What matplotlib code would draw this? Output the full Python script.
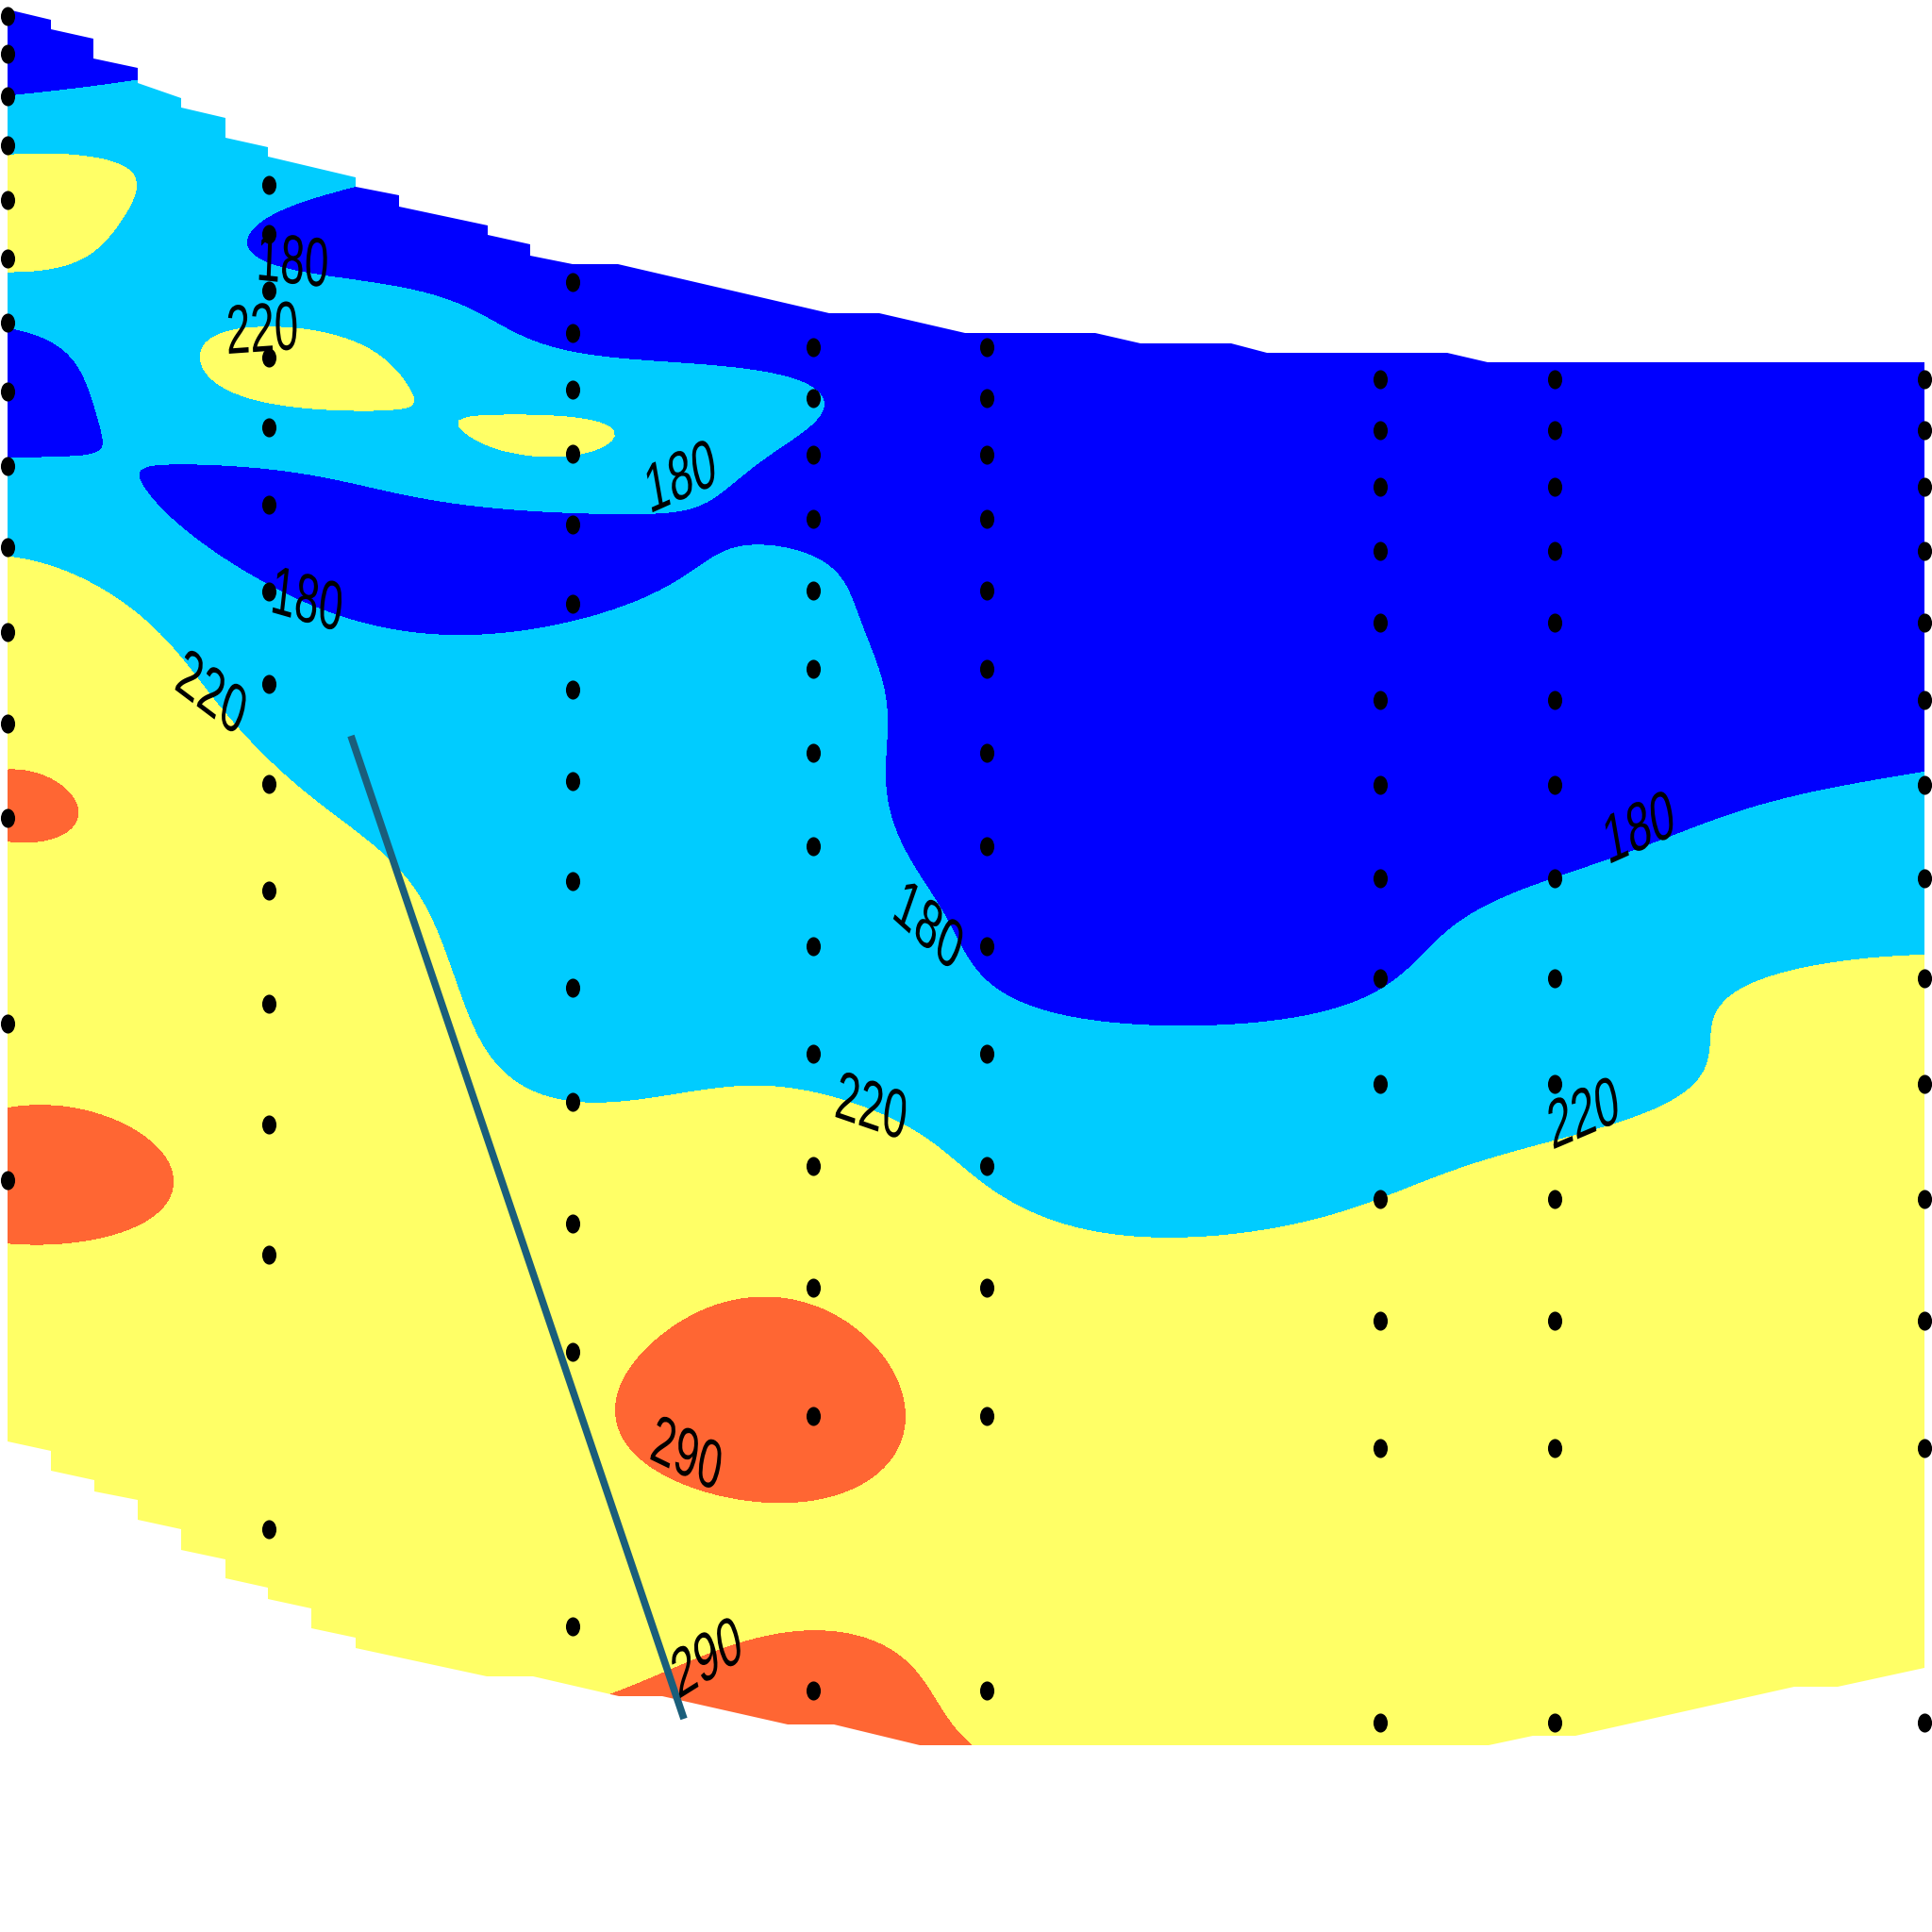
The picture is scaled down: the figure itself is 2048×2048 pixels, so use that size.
import numpy as np
import matplotlib
matplotlib.use("Agg")
import matplotlib.pyplot as plt
import matplotlib.patheffects as pe
from matplotlib.path import Path
from matplotlib.patches import PathPatch
from matplotlib.transforms import Affine2D

# stations along the section (position in figure px) and their sample depths
station_x = [8, 285, 607, 862, 1046, 1463, 1648, 2040]

depths_a = [17, 57, 102, 154, 212, 274, 342, 415, 494, 580, 670, 767, 867, 1085, 1251]
depths_b = [196, 248, 308, 379, 453, 535, 627, 725, 831, 944, 1064, 1192, 1330, 1621]
depths_c = [299, 353, 413, 481, 556, 640, 731, 828, 934, 1047, 1168, 1297, 1433, 1724]
depths_de = [368, 422, 482, 550, 626, 709, 798, 897, 1003, 1117, 1236, 1365, 1501, 1792]
depths_fgh = [402, 456, 516, 584, 660, 742, 832, 931, 1037, 1149, 1271, 1400, 1535, 1826]

values_a = [165, 168, 180, 213, 240, 228, 183, 162, 183, 216, 246, 272, 296, 266, 311]
values_b = [192, 176, 195, 231, 205, 168, 182, 205, 226, 246, 254, 264, 266, 262]
values_c = [158, 170, 205, 220.5, 172, 172, 200, 205, 208, 209, 220, 250, 275, 266]
values_d = [158, 182, 170, 170, 186, 198, 202, 206, 210, 214, 238, 284, 312, 305]
values_e = [150, 150, 150, 150, 151, 152, 153, 160, 175, 200, 217, 250, 268, 280]
values_f = [145, 146, 147, 149, 152, 156, 162, 170, 178, 203, 220, 245, 255, 258]
values_g = [145, 147, 150, 153, 157, 163, 171, 180, 200, 210, 232, 247, 255, 258]
values_h = [150, 152, 156, 160, 165, 172, 182, 203, 224, 236, 242, 248, 254, 256]

station_depths = [depths_a, depths_b, depths_c, depths_de, depths_de,
                  depths_fgh, depths_fgh, depths_fgh]
station_values = [values_a, values_b, values_c, values_d, values_e,
                  values_f, values_g, values_h]

levels = [0, 180, 220, 290, 400]
level_colors = ["#0000FF", "#00CCFF", "#FFFF66", "#FF6633"]

# outline of the sampled section (upper and lower limit)
top_x = [8, 54, 54, 99, 99, 146, 146, 192, 192, 239, 239, 284, 284, 377, 377, 423, 423,
         517, 517, 562, 562, 607, 655, 879, 932, 1023, 1161, 1209, 1305, 1343, 1534, 1577, 2040]
top_y = [10, 21, 31, 41, 62, 72, 88, 104, 114, 125, 146, 156, 166, 188, 198, 207, 219,
         239, 249, 259, 271, 280, 280, 332, 332, 353, 353, 364, 364, 374, 374, 384, 384]
bottom_x = [8, 54, 54, 100, 100, 146, 146, 192, 192, 239, 239, 284, 284, 330, 330, 377, 377,
            516, 565, 656, 702, 835, 884, 975, 1578, 1625, 1670, 1902, 1948, 2040]
bottom_y = [1528, 1538, 1559, 1569, 1581, 1590, 1611, 1621, 1643, 1653, 1673, 1683, 1695, 1705,
            1726, 1736, 1747, 1777, 1777, 1798, 1798, 1828, 1828, 1850, 1850, 1840, 1840, 1788,
            1788, 1768]

# transect line
transect_x = [372, 725]
transect_y = [780, 1822]


def squeeze(v, start, keep, soft=100.0):
    # smooth compression of a coordinate beyond `start`
    return v - (1.0 - keep) * soft * np.logaddexp(0.0, (v - start) / soft)


def trend_terms(y):
    y = y / 1000.0
    return np.column_stack([np.ones_like(y), y, y ** 2])


def grid_field(px, py, pz, gx, gy, lx=160.0, ly=75.0):
    # depth trend plus gaussian-kernel kriging of the residuals;
    # stations are sparse to the east, so the range is longer there
    A = trend_terms(py)
    coef = np.linalg.lstsq(A, pz, rcond=None)[0]
    resid = pz - A @ coef
    ux = squeeze(px, 1100, 0.45)
    d2 = ((ux[:, None] - ux[None, :]) / lx) ** 2 + ((py[:, None] - py[None, :]) / ly) ** 2
    K = np.exp(-0.5 * d2) + 1e-6 * np.eye(len(px))
    w = np.linalg.solve(K, resid)
    GX, GY = np.meshgrid(gx, gy)
    fx, fy = squeeze(GX.ravel(), 1100, 0.45), GY.ravel()
    k = np.exp(-0.5 * (((fx[:, None] - ux[None, :]) / lx) ** 2 + ((fy[:, None] - py[None, :]) / ly) ** 2))
    return (trend_terms(fy) @ coef + k @ w).reshape(GX.shape)


class Stretch(pe.AbstractPathEffect):
    # the labels in the original are drawn tall and narrow
    def __init__(self, sy):
        super().__init__()
        self.sy = sy

    def draw_path(self, renderer, gc, tpath, affine, rgbFace=None):
        ext = tpath.get_extents(affine)
        cx, cy = 0.5 * (ext.x0 + ext.x1), 0.5 * (ext.y0 + ext.y1)
        st = Affine2D().translate(-cx, -cy).scale(1.0, self.sy).translate(cx, cy)
        renderer.draw_path(gc, tpath, affine + st, rgbFace)


px = np.concatenate([np.full(len(d), x, float) for x, d in zip(station_x, station_depths)])
py = np.concatenate([np.asarray(d, float) for d in station_depths])
pz = np.concatenate([np.asarray(v, float) for v in station_values])

gx = np.linspace(0, 2048, 400)
gy = np.linspace(0, 2048, 400)
Z = grid_field(px, py, pz, gx, gy)

fig = plt.figure(figsize=(20.48, 20.48), dpi=100)
ax = fig.add_axes([0, 0, 1, 1])
ax.set_xlim(0, 2048)
ax.set_ylim(2048, 0)
ax.axis("off")

ox = list(top_x) + list(bottom_x[::-1]) + [top_x[0]]
oy = list(top_y) + list(bottom_y[::-1]) + [top_y[0]]
clip = PathPatch(Path(np.column_stack([ox, oy]), closed=True), transform=ax.transData,
                 facecolor="none", edgecolor="none")
ax.add_patch(clip)

cs = ax.contourf(gx, gy, np.clip(Z, 1, 399), levels=levels, colors=level_colors, zorder=1)
cs.set_clip_path(clip)

ax.plot(transect_x, transect_y, color="#1A5E7B", lw=5.5, solid_capstyle="butt", zorder=3)

circ = Path.unit_circle()
dot = Path(circ.vertices * [0.75, 1.0], circ.codes)
ax.scatter(px, py, s=210, marker=dot, color="black", linewidths=0, zorder=4, clip_on=False)

# contour labels: (x, y, level, apparent angle)
label_spots = [(310, 279, 180, -6), (278, 351, 220, 4), (722, 508, 180, 24),
               (325, 638, 180, -16), (223, 736, 220, -37), (983, 983, 180, -42),
               (923, 1175, 220, -19), (727, 1543, 290, -26), (750, 1760, 290, 32),
               (1738, 880, 180, 24), (1679, 1183, 220, 23)]
sy = 1.6
for lx, ly, lev, ang in label_spots:
    rot = np.degrees(np.arctan(np.tan(np.radians(ang)) / sy))
    ax.text(lx, ly, "%d" % lev, ha="center", va="center", rotation=rot,
            rotation_mode="anchor", fontsize=33, family="Liberation Sans",
            color="black", zorder=5, path_effects=[Stretch(sy)])

fig.savefig("out.png", dpi=100)
